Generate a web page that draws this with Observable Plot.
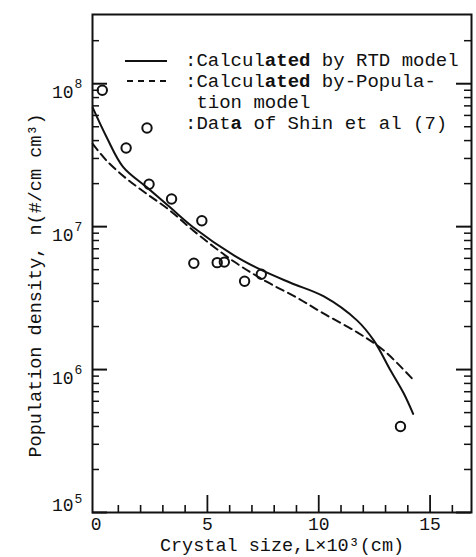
<!DOCTYPE html>
<html><head><meta charset="utf-8">
<script src="https://cdn.jsdelivr.net/npm/d3@7"></script>
<script src="https://cdn.jsdelivr.net/npm/@observablehq/plot@0.6"></script>
<style>
html,body{margin:0;padding:0;background:#fff;}
#chart svg{display:block;}
</style></head><body><div id="chart"></div>
<script>
// Calculated by RTD model (solid line): crystal size L×10^3 (cm), population density n
const rtdL = [-0.15, 0.47, 1.22, 2.27, 3.31, 4.36, 6.19, 7.39, 8.73, 10.23, 11.73, 12.47, 13.22, 13.82, 14.24];
const rtdN = [6.8e7, 4.24e7, 2.61e7, 1.89e7, 1.37e7, 9.9e6, 6.3e6, 5.0e6, 4.05e6, 3.25e6, 2.2e6, 1.6e6, 9.9e5, 6.8e5, 4.9e5];
// Calculated by Population model (dashed line)
const popL = [-0.15, 0.47, 1.36, 2.27, 3.31, 4.36, 6.19, 7.68, 9.0, 10.23, 11.73, 12.92, 14.27];
const popN = [3.8e7, 2.9e7, 2.17e7, 1.7e7, 1.3e7, 9.4e6, 5.7e6, 4.1e6, 3.2e6, 2.46e6, 1.82e6, 1.36e6, 8.4e5];
// Data of Shin et al (7) (open circles)
const obsL = [0.28, 1.35, 2.38, 3.39, 4.75, 4.39, 5.44, 5.76, 6.67, 7.42, 13.67];
const obsN = [9.0e7, 3.55e7, 1.98e7, 1.56e7, 1.1e7, 5.55e6, 5.6e6, 5.65e6, 4.15e6, 4.65e6, 4.0e5];

// Axis ticks and labels
const xMajorTicks = [0, 5, 10, 15];
const xMinorTicks = [1, 2, 3, 4, 6, 7, 8, 9, 11, 12, 13, 14, 16];
const yDecades = [1e5, 1e6, 1e7, 1e8];
const yMultipliers = [2, 3, 4, 5, 6, 7, 8, 9];
const xTitle = "Crystal size,L×10³(cm)";
const yTitle = "Population density, n(#/cm cm³)";
const legendRows = [
  [[":Calcul", false], ["ated", true], [" by RTD model", false]],
  [[":Calcul", false], ["ated", true], [" by-Popula-", false]],
  [[" tion model", false]],
  [[":Dat", false], ["a", true], [" of Shin et al (7)", false]]
];

const rtd = rtdL.map((L, i) => ({L, n: rtdN[i]}));
const pop = popL.map((L, i) => ({L, n: popN[i]}));
const obs = obsL.map((L, i) => ({L, n: obsN[i]}));
const yMax = 3.05e8;
const yMinor = yDecades.flatMap(d => yMultipliers.map(k => k * d)).filter(v => v < yMax * 0.98);

const W = 476, H = 557, mT = 14, mB = 45, mL = 92, mR = 5;
const innerW = W - mL - mR, innerH = H - mT - mB;
const font = "'Liberation Mono', 'DejaVu Sans Mono', monospace";
const ink = "#111";

const chart = Plot.plot({
  width: W, height: H,
  marginTop: mT, marginBottom: mB, marginLeft: mL, marginRight: mR,
  style: {fontFamily: font, background: "#fff", color: ink},
  x: {domain: [-0.16, 16.86], axis: null},
  y: {type: "log", domain: [1e5, yMax], axis: null},
  marks: [
    // bottom ticks (inward)
    Plot.tickX(xMinorTicks, {x: d => d, insetTop: innerH - 7, stroke: ink, strokeWidth: 1.6}),
    Plot.tickX(xMajorTicks.filter(d => d > 0), {x: d => d, insetTop: innerH - 17, stroke: ink, strokeWidth: 1.8}),
    // left ticks (inward)
    Plot.tickY(yMinor, {y: d => d, insetRight: innerW - 7, stroke: ink, strokeWidth: 1.5}),
    Plot.tickY(yDecades, {y: d => d, insetRight: innerW - 15, stroke: ink, strokeWidth: 2}),
    // right ticks (inward)
    Plot.tickY(yMinor, {y: d => d, insetLeft: innerW - 7, stroke: ink, strokeWidth: 1.5}),
    Plot.tickY(yDecades, {y: d => d, insetLeft: innerW - 15, stroke: ink, strokeWidth: 2}),
    Plot.frame({stroke: ink, strokeWidth: 2}),
    // curves
    Plot.line(rtd, {x: "L", y: "n", curve: "catmull-rom", stroke: ink, strokeWidth: 2}),
    Plot.line(pop, {x: "L", y: "n", curve: "catmull-rom", stroke: ink, strokeWidth: 2, strokeDasharray: "8,5"}),
    Plot.dot(obs, {x: "L", y: "n", r: 4.7, stroke: ink, strokeWidth: 2, fill: "none"}),
    // x tick labels
    Plot.text(xMajorTicks, {x: d => d, frameAnchor: "bottom", dy: 12, lineAnchor: "middle", textAnchor: "middle", text: d => String(d), fontSize: 18, fill: ink}),
    // y tick labels: "10" with superscript exponent
    Plot.text(yDecades.filter(d => d > 1e5), {y: d => d, frameAnchor: "left", dx: -19, dy: 9, textAnchor: "end", lineAnchor: "middle", text: () => "10", fontSize: 18, fill: ink}),
    Plot.text(yDecades.filter(d => d > 1e5), {y: d => d, frameAnchor: "left", dx: -18, dy: 0, textAnchor: "start", lineAnchor: "middle", text: d => String(Math.round(Math.log10(d))), fontSize: 13, fill: ink}),
    Plot.text(yDecades.filter(d => d === 1e5), {y: d => d, frameAnchor: "left", dx: -19, dy: -7, textAnchor: "end", lineAnchor: "middle", text: () => "10", fontSize: 18, fill: ink}),
    Plot.text(yDecades.filter(d => d === 1e5), {y: d => d, frameAnchor: "left", dx: -18, dy: -14, textAnchor: "start", lineAnchor: "middle", text: d => String(Math.round(Math.log10(d))), fontSize: 13, fill: ink}),
    // axis titles
    Plot.text([xTitle], {frameAnchor: "bottom", dy: 33, lineAnchor: "middle", textAnchor: "middle", text: d => d, fontSize: 18.5, fill: ink}),
    Plot.text([yTitle], {frameAnchor: "left", dx: -57, dy: 22, rotate: -90, lineAnchor: "middle", textAnchor: "middle", text: d => d, fontSize: 18.5, fill: ink})
  ]
});

document.getElementById("chart").appendChild(chart);

// Legend (top-right, inside the frame)
const svg = d3.select(chart);
const lg = svg.append("g").attr("fill", ink).attr("font-family", font).attr("font-size", 19).attr("text-anchor", "start");
const rowY = [60, 81, 102, 123];
const textX = 185;
legendRows.forEach((parts, i) => {
  const t = lg.append("text").attr("x", textX).attr("y", rowY[i] + 6).attr("text-anchor", "start").style("white-space", "pre");
  t.node().setAttributeNS("http://www.w3.org/XML/1998/namespace", "xml:space", "preserve");
  parts.forEach(([s, bold]) => {
    t.append("tspan").attr("font-weight", bold ? "bold" : "normal").text(s);
  });
});
lg.append("line").attr("x1", 125).attr("x2", 167).attr("y1", rowY[0] + 1).attr("y2", rowY[0] + 1)
  .attr("stroke", ink).attr("stroke-width", 2);
lg.append("line").attr("x1", 127).attr("x2", 167).attr("y1", rowY[1]).attr("y2", rowY[1])
  .attr("stroke", ink).attr("stroke-width", 2).attr("stroke-dasharray", "6,5");
lg.append("circle").attr("cx", 147).attr("cy", rowY[3] + 5).attr("r", 4.7)
  .attr("fill", "none").attr("stroke", ink).attr("stroke-width", 2);
</script>
</body></html>
